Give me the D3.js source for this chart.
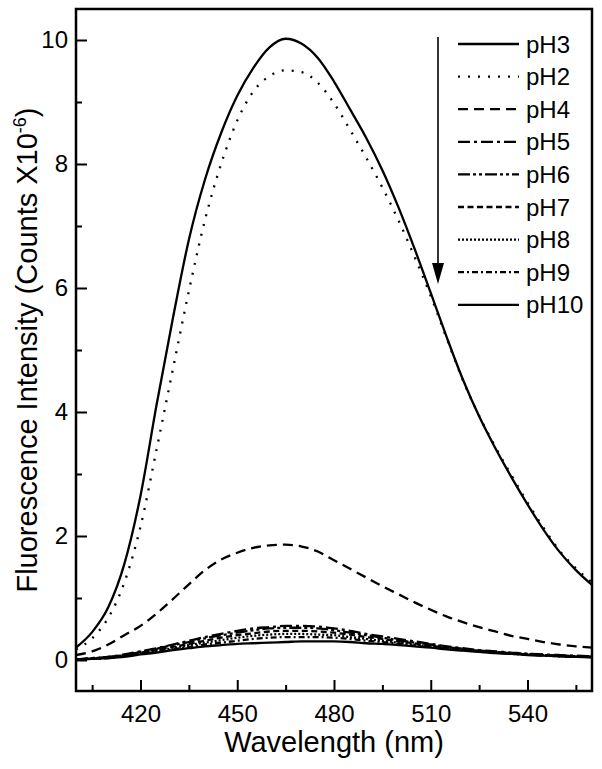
<!DOCTYPE html>
<html><head><meta charset="utf-8">
<script src="https://cdn.jsdelivr.net/npm/d3@7"></script>
<style>
html,body{margin:0;padding:0;background:#fff;}
text{font-family:"Liberation Sans",Arial,Helvetica,sans-serif;fill:#000;}
</style></head>
<body><svg id="c" width="602" height="769"></svg>
<script>
const wavelengths = [400,405,410,415,420,425,430,435,440,445,450,455,460,465,470,475,480,485,490,495,500,505,510,515,520,525,530,535,540,545,550,555,560];
const seriesNames = ["pH3","pH2","pH4","pH5","pH6","pH7","pH8","pH9","pH10"];
const pH3  = [0.20,0.45,0.85,1.55,2.65,4.12,5.50,6.78,7.75,8.50,9.10,9.55,9.88,10.02,9.94,9.71,9.33,8.88,8.42,7.90,7.30,6.63,5.92,5.20,4.52,3.93,3.42,2.95,2.51,2.10,1.74,1.45,1.21];
const pH2  = [0.17,0.35,0.68,1.25,2.15,3.40,4.68,5.95,7.10,8.00,8.70,9.17,9.42,9.51,9.48,9.31,8.98,8.55,8.10,7.62,7.09,6.50,5.87,5.18,4.51,3.94,3.44,2.98,2.54,2.13,1.76,1.48,1.25];
const pH4  = [0.08,0.14,0.25,0.40,0.55,0.75,0.98,1.22,1.45,1.62,1.73,1.81,1.85,1.86,1.83,1.75,1.61,1.47,1.33,1.19,1.06,0.93,0.81,0.70,0.61,0.53,0.46,0.39,0.34,0.29,0.25,0.22,0.20];
const pH5  = [0.01,0.03,0.05,0.09,0.14,0.19,0.25,0.31,0.37,0.42,0.47,0.51,0.53,0.55,0.55,0.54,0.51,0.47,0.42,0.38,0.34,0.30,0.26,0.22,0.19,0.16,0.14,0.12,0.10,0.09,0.08,0.07,0.06];
const pH6  = [0.01,0.03,0.05,0.08,0.13,0.18,0.24,0.29,0.35,0.40,0.44,0.48,0.51,0.52,0.52,0.51,0.48,0.44,0.40,0.36,0.32,0.28,0.25,0.21,0.18,0.15,0.13,0.11,0.10,0.08,0.07,0.06,0.05];
const pH7  = [0.01,0.02,0.04,0.07,0.12,0.16,0.21,0.26,0.31,0.36,0.40,0.43,0.46,0.47,0.47,0.46,0.44,0.41,0.37,0.34,0.30,0.27,0.23,0.20,0.17,0.15,0.13,0.11,0.09,0.08,0.07,0.06,0.05];
const pH8  = [0.01,0.02,0.04,0.07,0.11,0.15,0.19,0.24,0.28,0.32,0.36,0.39,0.41,0.42,0.42,0.41,0.40,0.37,0.34,0.31,0.28,0.25,0.22,0.19,0.16,0.14,0.12,0.10,0.09,0.08,0.06,0.05,0.05];
const pH9  = [0.01,0.02,0.03,0.06,0.10,0.13,0.17,0.21,0.25,0.28,0.31,0.34,0.36,0.37,0.37,0.37,0.36,0.34,0.31,0.29,0.26,0.23,0.21,0.18,0.16,0.14,0.12,0.10,0.09,0.07,0.06,0.05,0.05];
const pH10 = [0.01,0.02,0.03,0.05,0.09,0.12,0.16,0.19,0.22,0.24,0.26,0.27,0.28,0.29,0.30,0.30,0.30,0.29,0.27,0.26,0.24,0.22,0.20,0.17,0.15,0.13,0.11,0.10,0.08,0.07,0.06,0.05,0.04];
const xMajorTicks = [420,450,480,510,540];
const xMinorTicks = [405,435,465,495,525,555];
const yMajorTicks = [0,2,4,6,8,10];
const yMinorTicks = [1,3,5,7,9];

const seriesValues = [pH3,pH2,pH4,pH5,pH6,pH7,pH8,pH9,pH10];
const dashes = ["none","2,8","10,6","12,4,3,4","12,3,3,3,3,3","6,3.5","2,2","6,3,2,3","none"];

const svg = d3.select("#c");
const L=76, R=592, T=9, B=691;
const x = d3.scaleLinear().domain([400,560]).range([L,R]);
const y = d3.scaleLinear().domain([-0.5,10.5]).range([B,T]);

svg.append("defs").append("clipPath").attr("id","clip")
  .append("rect").attr("x",L).attr("y",T).attr("width",R-L).attr("height",B-T);

const line = d3.line().x(d=>x(d[0])).y(d=>y(d[1])).curve(d3.curveMonotoneX);
const g = svg.append("g").attr("clip-path","url(#clip)");
seriesValues.forEach((vals,i)=>{
  g.append("path")
    .datum(wavelengths.map((w,j)=>[w,vals[j]]))
    .attr("d",line).attr("fill","none").attr("stroke","#000")
    .attr("stroke-width",2.3)
    .attr("stroke-dasharray",dashes[i]);
});

// axes
const xAxis = d3.axisBottom(x).tickValues(xMajorTicks).tickSizeInner(-11).tickSizeOuter(0).tickPadding(14);
const xAxisMinor = d3.axisBottom(x).tickValues(xMinorTicks).tickSizeInner(-6).tickSizeOuter(0).tickFormat("");
const yAxis = d3.axisLeft(y).tickValues(yMajorTicks).tickSizeInner(-11).tickSizeOuter(0).tickPadding(8);
const yAxisMinor = d3.axisLeft(y).tickValues(yMinorTicks).tickSizeInner(-6).tickSizeOuter(0).tickFormat("");

function styleAxis(sel){
  sel.select(".domain").remove();
  sel.selectAll("line").attr("stroke","#000").attr("stroke-width",2);
  sel.selectAll("text").style("font-size","24px").attr("fill","#000");
}
svg.append("g").attr("transform",`translate(0,${B})`).call(xAxis).call(styleAxis);
svg.append("g").attr("transform",`translate(0,${B})`).call(xAxisMinor).call(styleAxis);
svg.append("g").attr("transform",`translate(${L},0)`).call(yAxis).call(styleAxis);
svg.append("g").attr("transform",`translate(${L},0)`).call(yAxisMinor).call(styleAxis);

svg.append("rect").attr("x",L).attr("y",T).attr("width",R-L).attr("height",B-T)
  .attr("fill","none").attr("stroke","#000").attr("stroke-width",2.5);

// titles
svg.append("text").attr("x",(L+R)/2).attr("y",752).attr("text-anchor","middle")
  .style("font-size","29px").text("Wavelength (nm)");
const yt = svg.append("text").attr("transform",`translate(37,${(T+B)/2}) rotate(-90)`)
  .attr("text-anchor","middle").style("font-size","29px");
yt.append("tspan").text("Fluorescence Intensity (Counts X10");
yt.append("tspan").attr("dy",-11).style("font-size","18px").text("-6");
yt.append("tspan").attr("dy",11).text(")");

// legend
const legY0 = 44, legDy = 32.6;
seriesNames.forEach((n,i)=>{
  const yy = legY0 + i*legDy;
  svg.append("line").attr("x1",458).attr("x2",519).attr("y1",yy).attr("y2",yy)
    .attr("stroke","#000").attr("stroke-width",2.3).attr("stroke-dasharray",dashes[i]);
  svg.append("text").attr("x",526).attr("y",yy+8.5).style("font-size","24px").text(n);
});

// arrow
svg.append("line").attr("x1",438).attr("x2",438).attr("y1",37).attr("y2",266)
  .attr("stroke","#000").attr("stroke-width",1.6);
svg.append("path").attr("d","M432,263 L444,263 L438,284 Z").attr("fill","#000");
</script></body></html>
